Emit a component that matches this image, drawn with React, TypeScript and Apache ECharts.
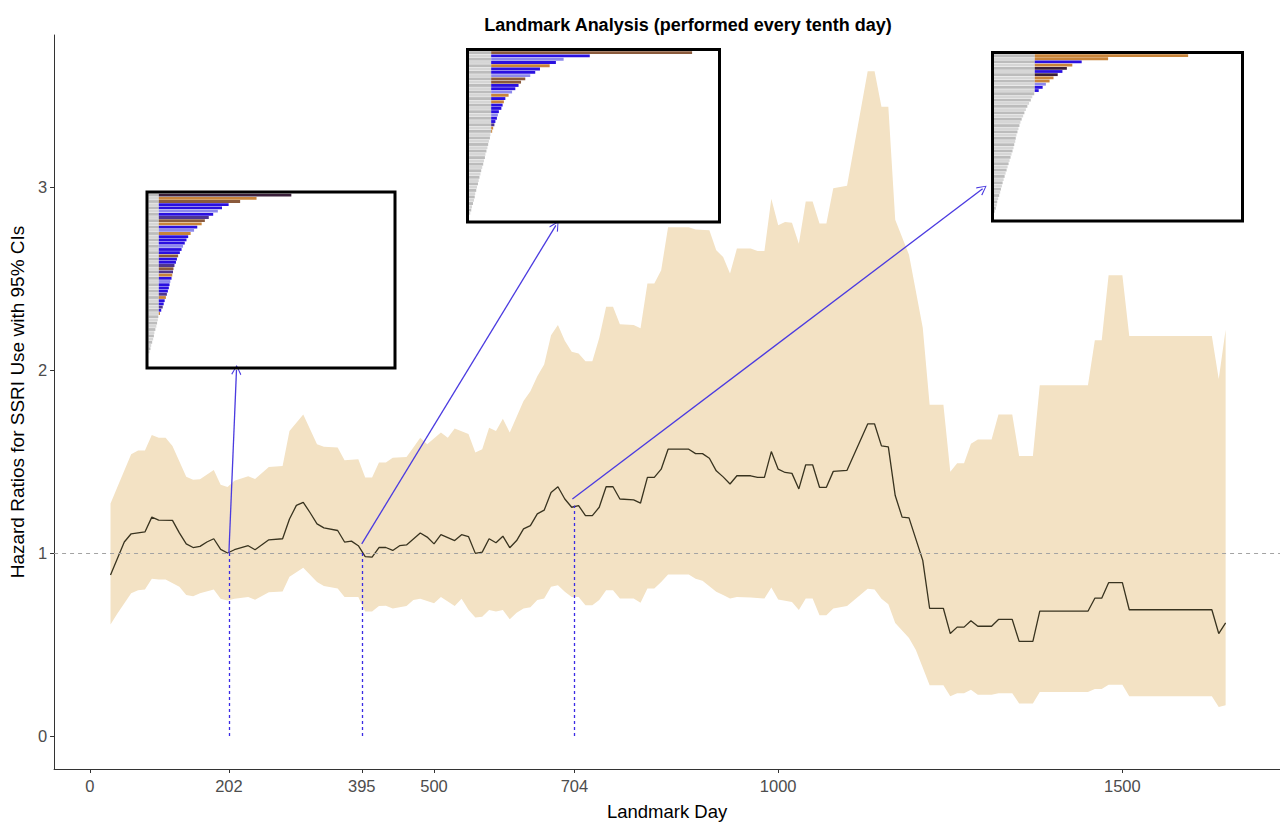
import React, { useEffect, useRef } from "react";
import * as echarts from "echarts";

const FONT = "'Liberation Sans', Arial, Helvetica, sans-serif";

const TITLE = "Landmark Analysis (performed every tenth day)";
const X_TITLE = "Landmark Day";
const Y_TITLE = "Hazard Ratios for SSRI Use with 95% CIs";
const X_TICKS = [0, 202, 395, 500, 704, 1000, 1500];
const Y_TICKS = [0, 1, 2, 3];

// [landmark day, hazard ratio]
const ESTIMATE: [number, number][] = [
  [30, 0.88], [40, 0.97], [50, 1.06], [60, 1.105], [70, 1.11], [80, 1.115], [90, 1.196], [100, 1.18], [120, 1.178],
  [130, 1.11], [140, 1.05], [150, 1.03], [160, 1.036], [170, 1.06], [180, 1.078], [190, 1.02], [200, 1.0], [210, 1.018],
  [230, 1.04], [240, 1.018], [260, 1.072], [280, 1.078], [290, 1.186], [300, 1.26], [310, 1.277], [320, 1.22], [330, 1.159],
  [340, 1.137], [360, 1.123], [370, 1.06], [380, 1.065], [390, 1.04], [400, 0.98], [410, 0.978], [420, 1.03], [430, 1.03],
  [440, 1.014], [450, 1.04], [460, 1.044], [480, 1.109], [490, 1.087], [500, 1.05], [510, 1.1], [530, 1.068], [540, 1.1],
  [550, 1.09], [560, 0.998], [570, 1.005], [580, 1.078], [590, 1.056], [600, 1.092], [610, 1.029], [620, 1.068], [630, 1.132],
  [640, 1.15], [650, 1.214], [660, 1.234], [670, 1.33], [680, 1.362], [690, 1.295], [700, 1.25], [710, 1.259], [720, 1.204],
  [730, 1.204], [740, 1.25], [750, 1.362], [760, 1.362], [770, 1.295], [790, 1.29], [800, 1.273], [810, 1.413], [820, 1.413],
  [830, 1.458], [840, 1.567], [870, 1.567], [880, 1.543], [890, 1.543], [900, 1.518], [910, 1.449], [920, 1.416], [930, 1.377],
  [940, 1.422], [960, 1.422], [970, 1.413], [980, 1.413], [990, 1.554], [1000, 1.458], [1010, 1.44], [1020, 1.435], [1030, 1.35],
  [1040, 1.482], [1050, 1.482], [1060, 1.359], [1070, 1.359], [1080, 1.446], [1100, 1.452], [1130, 1.705], [1140, 1.705],
  [1150, 1.585], [1160, 1.58], [1170, 1.314], [1180, 1.196], [1190, 1.192], [1210, 0.96], [1220, 0.697], [1240, 0.697],
  [1250, 0.56], [1260, 0.595], [1270, 0.595], [1280, 0.63], [1290, 0.6], [1310, 0.6], [1320, 0.637], [1340, 0.637],
  [1350, 0.517], [1370, 0.517], [1380, 0.682], [1450, 0.682], [1460, 0.753], [1470, 0.753], [1480, 0.838], [1500, 0.838],
  [1510, 0.69], [1630, 0.69], [1640, 0.56], [1650, 0.618],
];

const UPPER: [number, number][] = [
  [30, 1.27], [40, 1.36], [60, 1.54], [70, 1.56], [80, 1.56], [90, 1.645], [100, 1.63], [110, 1.63], [120, 1.585],
  [140, 1.416], [150, 1.4], [160, 1.403], [180, 1.453], [190, 1.373], [200, 1.36], [210, 1.395], [230, 1.42], [240, 1.404],
  [260, 1.47], [280, 1.476], [290, 1.667], [310, 1.757], [330, 1.594], [340, 1.58], [360, 1.576], [370, 1.507], [390, 1.512],
  [400, 1.413], [410, 1.413], [420, 1.495], [430, 1.495], [440, 1.52], [460, 1.525], [470, 1.576], [480, 1.63], [490, 1.594],
  [510, 1.658], [520, 1.63], [530, 1.68], [550, 1.65], [560, 1.549], [570, 1.567], [580, 1.685], [590, 1.666], [600, 1.734],
  [610, 1.658], [630, 1.83], [640, 1.884], [650, 1.966], [660, 2.03], [670, 2.19], [680, 2.246], [690, 2.16], [700, 2.1],
  [710, 2.09], [720, 2.047], [730, 2.047], [740, 2.174], [750, 2.346], [760, 2.346], [770, 2.25], [790, 2.246], [800, 2.228],
  [810, 2.473], [820, 2.473], [830, 2.545], [840, 2.78], [870, 2.78], [880, 2.768], [900, 2.763], [910, 2.654], [920, 2.617],
  [930, 2.527], [940, 2.663], [960, 2.663], [970, 2.65], [980, 2.65], [990, 2.935], [1000, 2.79], [1010, 2.808], [1020, 2.804],
  [1030, 2.69], [1040, 2.92], [1050, 2.92], [1060, 2.8], [1070, 2.8], [1080, 2.993], [1100, 3.007], [1130, 3.632],
  [1140, 3.632], [1150, 3.438], [1160, 3.438], [1170, 2.82], [1190, 2.63], [1210, 2.23], [1220, 1.81], [1240, 1.81],
  [1250, 1.444], [1260, 1.491], [1270, 1.491], [1280, 1.597], [1290, 1.62], [1310, 1.62], [1320, 1.757], [1340, 1.757],
  [1350, 1.53], [1370, 1.53], [1380, 1.916], [1450, 1.916], [1460, 2.163], [1470, 2.163], [1480, 2.517], [1500, 2.517],
  [1510, 2.186], [1630, 2.186], [1640, 1.95], [1650, 2.22],
];

const LOWER: [number, number][] = [
  [30, 0.61], [40, 0.67], [60, 0.78], [70, 0.797], [80, 0.8], [90, 0.86], [100, 0.855], [110, 0.855], [130, 0.815],
  [140, 0.77], [150, 0.764], [160, 0.78], [180, 0.8], [190, 0.75], [200, 0.74], [210, 0.75], [230, 0.76], [240, 0.745],
  [260, 0.785], [280, 0.79], [290, 0.87], [310, 0.92], [330, 0.842], [340, 0.82], [360, 0.806], [370, 0.76], [390, 0.76],
  [400, 0.68], [410, 0.68], [420, 0.71], [430, 0.712], [440, 0.697], [460, 0.71], [470, 0.743], [480, 0.75], [500, 0.725],
  [510, 0.76], [530, 0.71], [540, 0.75], [550, 0.69], [560, 0.648], [570, 0.652], [580, 0.688], [590, 0.68], [600, 0.688],
  [610, 0.638], [620, 0.674], [630, 0.697], [640, 0.703], [650, 0.743], [660, 0.752], [670, 0.815], [680, 0.824],
  [690, 0.788], [700, 0.76], [710, 0.76], [720, 0.715], [730, 0.715], [740, 0.743], [750, 0.797], [760, 0.797], [770, 0.752],
  [790, 0.752], [800, 0.728], [810, 0.806], [820, 0.806], [830, 0.842], [840, 0.883], [870, 0.883], [880, 0.86], [890, 0.848],
  [910, 0.788], [920, 0.77], [930, 0.752], [940, 0.76], [960, 0.757], [980, 0.752], [990, 0.811], [1000, 0.746],
  [1020, 0.733], [1030, 0.688], [1040, 0.752], [1050, 0.752], [1060, 0.66], [1070, 0.66], [1080, 0.697], [1100, 0.71],
  [1130, 0.805], [1140, 0.8], [1150, 0.75], [1160, 0.72], [1170, 0.618], [1190, 0.536], [1200, 0.47], [1220, 0.277],
  [1240, 0.277], [1250, 0.217], [1260, 0.234], [1270, 0.234], [1280, 0.253], [1290, 0.225], [1310, 0.225], [1320, 0.234],
  [1340, 0.234], [1350, 0.178], [1370, 0.178], [1380, 0.241], [1450, 0.241], [1460, 0.257], [1470, 0.257], [1480, 0.28],
  [1500, 0.28], [1510, 0.217], [1630, 0.217], [1640, 0.159], [1650, 0.168],
];

// landmark days with their dashed drop lines (top value) and arrows to the insets
const LANDMARK_DAYS = [202, 395, 704];
const LANDMARK_TOP = [1.0, 1.0, 1.26];
const ARROW_FROM: [number, number][] = [[202, 1.0], [395, 1.05], [701, 1.295]];
const ARROW_TO: [number, number][] = [[213, 2.0], [677, 2.79], [1297, 2.99]];

// inset bar lengths (percent of inset width), top row first
const INSET1_TOTAL = [58.3, 44.1, 37.4, 32.7, 30.0, 28.3, 26.4, 24.6, 23.0, 21.7, 19.9, 18.6, 17.2, 16.2, 15.5, 14.8, 14.1,
  13.5, 12.8, 12.1, 11.6, 11.2, 10.6, 10.2, 10.0, 9.7, 9.4, 8.9, 8.6, 8.3, 7.9, 7.5, 7.1, 6.6, 6.2, 5.8, 5.2, 4.7, 4.0, 3.8,
  3.5, 3.2, 2.8, 2.4, 2.2, 1.9, 1.5, 1.1, 0.8, 0.4];
const INSET1_GREY = 4.2;
const INSET1_COLORS = ["D", "O", "B", "b", "b", "L", "b", "P", "B", "O", "b", "L", "O", "b", "b", "b", "L", "b", "b", "B",
  "b", "b", "P", "B", "P", "O", "b", "L", "b", "b", "b", "P", "O", "b", "b", "P", "b", "O"];

const INSET2_TOTAL = [89.6, 48.5, 38.0, 34.9, 32.4, 28.5, 26.6, 24.6, 22.6, 20.9, 19.9, 18.6, 17.3, 15.9, 14.6, 14.0, 13.5,
  13.0, 12.0, 11.6, 11.2, 10.6, 10.2, 9.7, 9.3, 8.6, 8.4, 8.0, 7.7, 7.4, 7.0, 6.6, 6.4, 6.0, 5.7, 5.3, 4.9, 4.6, 4.2, 3.9,
  3.6, 3.2, 2.9, 2.5, 2.3, 2.0, 1.6, 1.2, 0.9, 0.5];
const INSET2_GREY = 8.9;
const INSET2_COLORS = ["B", "b", "L", "b", "O", "b", "b", "L", "B", "B", "b", "b", "L", "O", "b", "O", "b", "b", "b", "L",
  "b", "b", "P", "O", "O"];

const INSET3_TOTAL = [78.6, 46.2, 35.5, 31.7, 29.5, 27.7, 25.8, 24.1, 22.5, 21.0, 19.7, 18.1, 16.3, 15.5, 14.9, 14.2, 13.5,
  12.9, 12.3, 11.8, 11.2, 10.7, 10.3, 9.9, 9.5, 9.1, 8.8, 8.6, 8.2, 7.9, 7.5, 7.1, 6.7, 6.3, 5.9, 5.5, 5.1, 4.7, 4.3, 3.9,
  3.5, 3.2, 2.8, 2.5, 2.1, 1.7, 1.3, 1.1, 0.7, 0.4];
const INSET3_GREY = 16.5;
const INSET3_COLORS = ["O", "O", "b", "O", "D", "b", "D", "O", "O", "L", "b", "b"];

const PALETTE: Record<string, string> = {
  b: "#2a10e0",
  O: "#c8843a",
  B: "#8a5a3c",
  P: "#4e3590",
  L: "#8d88ec",
  D: "#3a1f3a",
};

const INSETS = [
  { total: INSET1_TOTAL, grey: INSET1_GREY, colors: INSET1_COLORS, box: [147, 192, 248, 176], grid: [148.5, 193.5, 245, 160] },
  { total: INSET2_TOTAL, grey: INSET2_GREY, colors: INSET2_COLORS, box: [467.5, 49.5, 252, 172.5], grid: [469, 51, 249, 164] },
  { total: INSET3_TOTAL, grey: INSET3_GREY, colors: INSET3_COLORS, box: [992.5, 52.5, 250, 168.5], grid: [994, 54, 247, 159] },
];

const ARROW_HEAD = "path://M0,0 L6,10 L5,11 L0,2 L-5,11 L-6,10 Z";

function buildOption() {
  const grids: any[] = [{ left: 53, right: 0, top: 35, bottom: 54 }];
  const xAxes: any[] = [
    {
      type: "value",
      gridIndex: 0,
      min: -52,
      max: 1729,
      name: X_TITLE,
      nameLocation: "middle",
      nameGap: 33,
      nameTextStyle: { fontFamily: FONT, fontSize: 18.5, color: "#000" },
      axisLine: { show: true, onZero: false, lineStyle: { color: "#333", width: 1 } },
      axisTick: { show: true, customValues: X_TICKS, length: 4, lineStyle: { color: "#333" } },
      axisLabel: {
        customValues: X_TICKS,
        formatter: (v: number) => String(v),
        color: "#4d4d4d",
        fontSize: 16.5,
        fontFamily: FONT,
        margin: 8,
      },
      splitLine: { show: false },
    },
  ];
  const yAxes: any[] = [
    {
      type: "value",
      gridIndex: 0,
      min: -0.18,
      max: 3.83,
      name: Y_TITLE,
      nameLocation: "middle",
      nameGap: 22,
      nameRotate: 90,
      nameTextStyle: { fontFamily: FONT, fontSize: 19, color: "#000" },
      axisLine: { show: true, onZero: false, lineStyle: { color: "#333", width: 1 } },
      axisTick: { show: true, customValues: Y_TICKS, length: 4, lineStyle: { color: "#333" } },
      axisLabel: {
        customValues: Y_TICKS,
        formatter: (v: number) => String(v),
        color: "#4d4d4d",
        fontSize: 16.5,
        fontFamily: FONT,
        margin: 7,
      },
      splitLine: { show: false },
    },
  ];

  const blue = "#3b2be4";
  const markData: any[] = [
    { yAxis: 1, lineStyle: { type: [4, 4], color: "#a3a3a3", width: 1 } },
  ];
  LANDMARK_DAYS.forEach((d, i) => {
    markData.push([
      { coord: [d, 0], symbol: "none", lineStyle: { type: [3, 3], color: blue, width: 1.3 } },
      { coord: [d, LANDMARK_TOP[i]], symbol: "none" },
    ]);
  });
  ARROW_FROM.forEach((p, i) => {
    markData.push([
      { coord: p, symbol: "none", lineStyle: { type: "solid", color: "#4a3ae0", width: 1.3 } },
      { coord: ARROW_TO[i], symbol: ARROW_HEAD, symbolSize: [10, 10] },
    ]);
  });

  const series: any[] = [
    {
      type: "custom",
      xAxisIndex: 0,
      yAxisIndex: 0,
      z: 1,
      silent: true,
      data: [UPPER[0]],
      renderItem: (_params: any, api: any) => {
        const pts = UPPER.map((p) => api.coord(p)).concat(
          LOWER.slice().reverse().map((p) => api.coord(p))
        );
        return { type: "polygon", shape: { points: pts }, style: { fill: "#f3e2c4" } };
      },
    },
    {
      type: "line",
      xAxisIndex: 0,
      yAxisIndex: 0,
      z: 3,
      data: ESTIMATE,
      symbol: "none",
      silent: true,
      lineStyle: { color: "#38331f", width: 1.3 },
      markLine: {
        silent: true,
        symbol: ["none", "none"],
        label: { show: false },
        data: markData,
      },
    },
  ];

  INSETS.forEach((ins, k) => {
    const g = ins.grid;
    grids.push({ left: g[0], top: g[1], width: g[2], height: g[3] });
    xAxes.push({ type: "value", gridIndex: k + 1, min: 0, max: 100, show: false });
    yAxes.push({
      type: "category",
      gridIndex: k + 1,
      inverse: true,
      show: false,
      data: ins.total.map((_, i) => String(i)),
    });
    series.push({
      type: "bar",
      xAxisIndex: k + 1,
      yAxisIndex: k + 1,
      stack: "inset" + k,
      barCategoryGap: "12%",
      silent: true,
      z: 5,
      data: ins.total.map((t) => Math.min(t, ins.grey)),
      itemStyle: { color: (p: any) => (p.dataIndex % 2 ? "#d6d6d6" : "#bcbcbc") },
    });
    series.push({
      type: "bar",
      xAxisIndex: k + 1,
      yAxisIndex: k + 1,
      stack: "inset" + k,
      barCategoryGap: "12%",
      silent: true,
      z: 5,
      data: ins.total.map((t, i) =>
        t > ins.grey
          ? { value: t - ins.grey, itemStyle: { color: PALETTE[ins.colors[i]] || PALETTE.b } }
          : { value: 0 }
      ),
    });
  });

  const graphics = INSETS.map((ins) => ({
    type: "rect",
    z: 100,
    silent: true,
    shape: { x: ins.box[0], y: ins.box[1], width: ins.box[2], height: ins.box[3] },
    style: { fill: "none", stroke: "#000", lineWidth: 3 },
  }));

  return {
    animation: false,
    backgroundColor: "#ffffff",
    title: {
      text: TITLE,
      left: 683,
      top: 11,
      textAlign: "center",
      textStyle: { fontFamily: FONT, fontWeight: "bold", fontSize: 18, color: "#000" },
    },
    grid: grids,
    xAxis: xAxes,
    yAxis: yAxes,
    series,
    graphic: graphics,
  };
}

export default function App() {
  const ref = useRef<HTMLDivElement>(null);
  useEffect(() => {
    const chart = echarts.init(ref.current!, null, { renderer: "svg" });
    chart.setOption(buildOption() as any);
    return () => chart.dispose();
  }, []);
  return (
    <div
      ref={ref}
      style={{ position: "absolute", left: 0, top: 0, width: 1280, height: 826, background: "#fff" }}
    />
  );
}
